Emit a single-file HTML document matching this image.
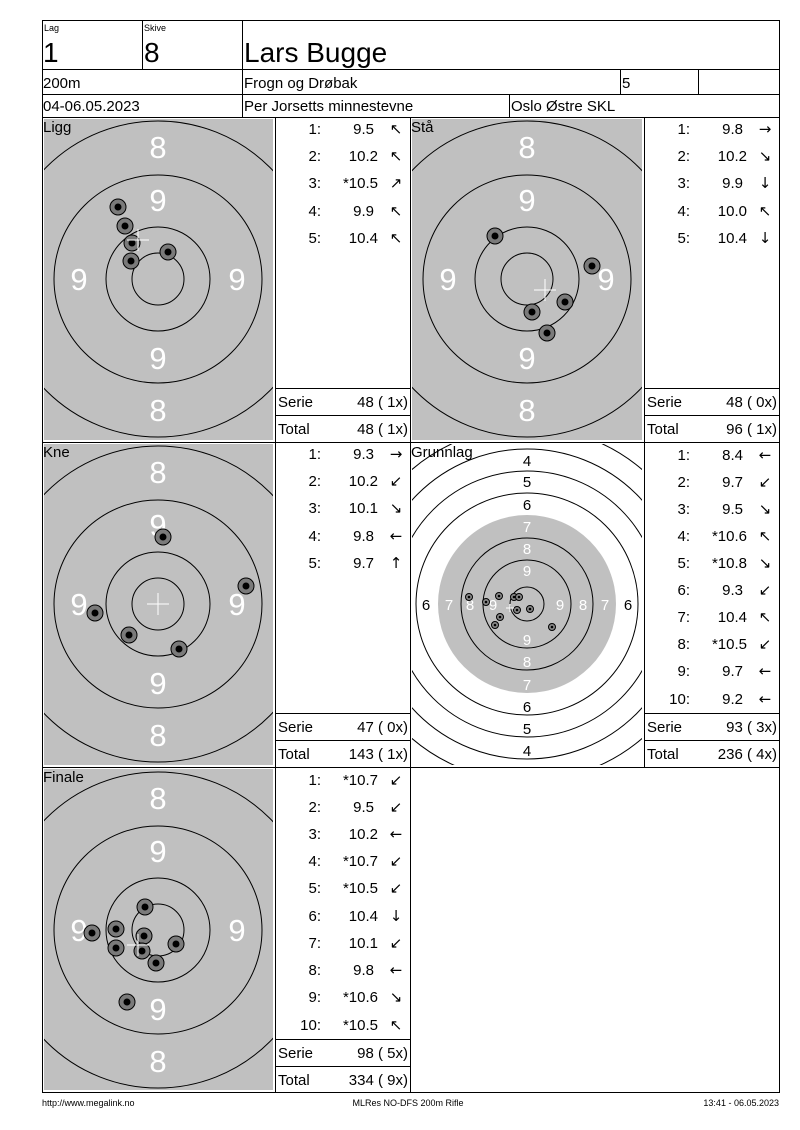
<!DOCTYPE html>
<html><head><meta charset="utf-8"><style>
html,body{margin:0;padding:0;background:#fff;}
svg{display:block;font-family:"Liberation Sans","DejaVu Sans",sans-serif;}
.w{fill:#fff;font-size:31px;text-anchor:middle;}
.l{font-size:15px;fill:#000;}
.r{font-size:15px;fill:#000;text-anchor:end;}
.a{font-size:15px;fill:#000;font-family:"DejaVu Sans",sans-serif;text-anchor:middle;}
.g{fill:#000;font-size:15px;text-anchor:middle;}
.gw{fill:#fff;font-size:15px;text-anchor:middle;}
</style></head><body>
<svg width="800" height="1130" viewBox="0 0 800 1130" xmlns="http://www.w3.org/2000/svg">
<defs>
<clipPath id="c1"><rect x="44" y="119" width="229" height="321"/></clipPath>
<clipPath id="c2"><rect x="412" y="119" width="230" height="321"/></clipPath>
<clipPath id="c3"><rect x="44" y="444" width="229" height="321"/></clipPath>
<clipPath id="c4"><rect x="412" y="444" width="230" height="321"/></clipPath>
<clipPath id="c5"><rect x="44" y="769" width="229" height="321"/></clipPath>
<g id="shot"><circle r="8" fill="#7a7a7a" stroke="#000" stroke-width="1"/><circle r="3.5" fill="#000"/></g>
<g id="ss"><circle r="3.5" fill="#888" stroke="#000" stroke-width="1"/><circle r="1.3" fill="#000"/></g>
</defs>

<!-- Ligg -->
<rect x="44" y="119" width="229" height="321" fill="#c0c0c0"/>
<g clip-path="url(#c1)" fill="none" stroke="#000" stroke-width="1">
<circle cx="158" cy="279" r="26"/><circle cx="158" cy="279" r="52"/><circle cx="158" cy="279" r="104"/><circle cx="158" cy="279" r="158"/>
</g>
<text class="w" x="158" y="158">8</text><text class="w" x="158" y="211">9</text><text class="w" x="79" y="290">9</text><text class="w" x="237" y="290">9</text><text class="w" x="158" y="369">9</text><text class="w" x="158" y="421">8</text>
<use href="#shot" x="118" y="207"/><use href="#shot" x="125" y="226"/><use href="#shot" x="132" y="243"/><use href="#shot" x="131" y="261"/><use href="#shot" x="168" y="252"/>
<path d="M127 240h22M138 229v22" stroke="#fff" stroke-width="1"/>
<text class="l" x="43" y="132">Ligg</text>

<!-- Stå -->
<rect x="412" y="119" width="230" height="321" fill="#c0c0c0"/>
<g clip-path="url(#c2)" fill="none" stroke="#000" stroke-width="1">
<circle cx="527" cy="279" r="26"/><circle cx="527" cy="279" r="52"/><circle cx="527" cy="279" r="104"/><circle cx="527" cy="279" r="158"/>
</g>
<text class="w" x="527" y="158">8</text><text class="w" x="527" y="211">9</text><text class="w" x="448" y="290">9</text><text class="w" x="606" y="290">9</text><text class="w" x="527" y="369">9</text><text class="w" x="527" y="421">8</text>
<use href="#shot" x="495" y="236"/><use href="#shot" x="592" y="266"/><use href="#shot" x="565" y="302"/><use href="#shot" x="532" y="312"/><use href="#shot" x="547" y="333"/>
<path d="M534 290h22M545 279v22" stroke="#fff" stroke-width="1"/>
<text class="l" x="411" y="132">Stå</text>

<!-- Kne -->
<rect x="44" y="444" width="229" height="321" fill="#c0c0c0"/>
<g clip-path="url(#c3)" fill="none" stroke="#000" stroke-width="1">
<circle cx="158" cy="604" r="26"/><circle cx="158" cy="604" r="52"/><circle cx="158" cy="604" r="104"/><circle cx="158" cy="604" r="158"/>
</g>
<text class="w" x="158" y="483">8</text><text class="w" x="158" y="536">9</text><text class="w" x="79" y="615">9</text><text class="w" x="237" y="615">9</text><text class="w" x="158" y="694">9</text><text class="w" x="158" y="746">8</text>
<use href="#shot" x="163" y="537"/><use href="#shot" x="246" y="586"/><use href="#shot" x="95" y="613"/><use href="#shot" x="129" y="635"/><use href="#shot" x="179" y="649"/>
<path d="M147 604h22M158 593v22" stroke="#fff" stroke-width="1"/>
<text class="l" x="43" y="457">Kne</text>

<!-- Grunnlag -->
<g clip-path="url(#c4)">
<circle cx="527" cy="604" r="89" fill="#c0c0c0"/>
<g fill="none" stroke="#000" stroke-width="1">
<circle cx="527" cy="604" r="17"/><circle cx="527" cy="604" r="44"/><circle cx="527" cy="604" r="66"/>
<circle cx="527" cy="604" r="111"/><circle cx="527" cy="604" r="133"/><circle cx="527" cy="604" r="155"/><circle cx="527" cy="604" r="177"/>
</g>
</g>
<text class="g" x="527" y="466">4</text><text class="g" x="527" y="487">5</text><text class="g" x="527" y="510">6</text>
<text class="gw" x="527" y="532">7</text><text class="gw" x="527" y="554">8</text><text class="gw" x="527" y="576">9</text>
<text class="gw" x="527" y="645">9</text><text class="gw" x="527" y="667">8</text><text class="gw" x="527" y="690">7</text>
<text class="g" x="527" y="712">6</text><text class="g" x="527" y="734">5</text><text class="g" x="527" y="756">4</text>
<text class="g" x="426" y="610">6</text><text class="gw" x="449" y="610">7</text><text class="gw" x="470" y="610">8</text><text class="gw" x="493" y="610">9</text>
<text class="gw" x="560" y="610">9</text><text class="gw" x="583" y="610">8</text><text class="gw" x="605" y="610">7</text><text class="g" x="628" y="610">6</text>
<use href="#ss" x="469" y="597"/><use href="#ss" x="486" y="602"/><use href="#ss" x="499" y="596"/><use href="#ss" x="514" y="597"/><use href="#ss" x="519" y="597"/>
<use href="#ss" x="500" y="617"/><use href="#ss" x="495" y="625"/><use href="#ss" x="517" y="610"/><use href="#ss" x="530" y="609"/><use href="#ss" x="552" y="627"/>
<path d="M506 608h8M510 604v8" stroke="#fff" stroke-width="1"/>
<text class="l" x="411" y="457">Grunnlag</text>

<!-- Finale -->
<rect x="44" y="769" width="229" height="321" fill="#c0c0c0"/>
<g clip-path="url(#c5)" fill="none" stroke="#000" stroke-width="1">
<circle cx="158" cy="930" r="26"/><circle cx="158" cy="930" r="52"/><circle cx="158" cy="930" r="104"/><circle cx="158" cy="930" r="158"/>
</g>
<text class="w" x="158" y="809">8</text><text class="w" x="158" y="862">9</text><text class="w" x="79" y="941">9</text><text class="w" x="237" y="941">9</text><text class="w" x="158" y="1020">9</text><text class="w" x="158" y="1072">8</text>
<use href="#shot" x="145" y="907"/><use href="#shot" x="92" y="933"/><use href="#shot" x="116" y="929"/><use href="#shot" x="116" y="948"/><use href="#shot" x="144" y="936"/><use href="#shot" x="176" y="944"/><use href="#shot" x="142" y="951"/><use href="#shot" x="156" y="963"/><use href="#shot" x="127" y="1002"/>
<path d="M127 945h22M138 934v22" stroke="#fff" stroke-width="1"/>
<text class="l" x="43" y="782">Finale</text>

<!-- grid lines -->
<g stroke="#000" stroke-width="1" fill="none">
<rect x="42.5" y="20.5" width="737" height="1072"/>
<line x1="42" y1="69.5" x2="780" y2="69.5"/>
<line x1="42" y1="94.5" x2="780" y2="94.5"/>
<line x1="42" y1="117.5" x2="780" y2="117.5"/>
<line x1="142.5" y1="20" x2="142.5" y2="69"/>
<line x1="242.5" y1="20" x2="242.5" y2="117"/>
<line x1="620.5" y1="69" x2="620.5" y2="94"/>
<line x1="698.5" y1="69" x2="698.5" y2="94"/>
<line x1="509.5" y1="94" x2="509.5" y2="117"/>
<line x1="42" y1="442.5" x2="780" y2="442.5"/>
<line x1="42" y1="767.5" x2="780" y2="767.5"/>
<line x1="275.5" y1="117" x2="275.5" y2="1092"/>
<line x1="410.5" y1="117" x2="410.5" y2="1092"/>
<line x1="644.5" y1="117" x2="644.5" y2="767"/>
<line x1="275" y1="388.5" x2="410" y2="388.5"/><line x1="275" y1="415.5" x2="410" y2="415.5"/>
<line x1="644" y1="388.5" x2="780" y2="388.5"/><line x1="644" y1="415.5" x2="780" y2="415.5"/>
<line x1="275" y1="713.5" x2="410" y2="713.5"/><line x1="275" y1="740.5" x2="410" y2="740.5"/>
<line x1="644" y1="713.5" x2="780" y2="713.5"/><line x1="644" y1="740.5" x2="780" y2="740.5"/>
<line x1="275" y1="1039.5" x2="410" y2="1039.5"/><line x1="275" y1="1066.5" x2="410" y2="1066.5"/>
</g>

<!-- header -->
<text x="44" y="31" font-size="9">Lag</text>
<text x="144" y="31" font-size="9">Skive</text>
<text x="43" y="62" font-size="28">1</text>
<text x="144" y="62" font-size="28">8</text>
<text x="244" y="62" font-size="28">Lars Bugge</text>
<text x="43" y="88" font-size="15">200m</text>
<text x="244" y="88" font-size="15">Frogn og Drøbak</text>
<text x="622" y="88" font-size="15">5</text>
<text x="43" y="111" font-size="15">04-06.05.2023</text>
<text x="244" y="111" font-size="15">Per Jorsetts minnestevne</text>
<text x="511" y="111" font-size="15">Oslo Østre SKL</text>

<!-- Ligg list -->
<g>
<text class="r" x="321" y="134">1:</text><text class="r" x="374" y="134">9.5</text><text class="a" x="396" y="134">↖</text>
<text class="r" x="321" y="161">2:</text><text class="r" x="378" y="161">10.2</text><text class="a" x="396" y="161">↖</text>
<text class="r" x="321" y="188">3:</text><text class="r" x="378" y="188">*10.5</text><text class="a" x="396" y="188">↗</text>
<text class="r" x="321" y="216">4:</text><text class="r" x="374" y="216">9.9</text><text class="a" x="396" y="216">↖</text>
<text class="r" x="321" y="243">5:</text><text class="r" x="378" y="243">10.4</text><text class="a" x="396" y="243">↖</text>
<text class="l" x="278" y="407">Serie</text><text class="r" x="408" y="407">48 ( 1x)</text>
<text class="l" x="278" y="434">Total</text><text class="r" x="408" y="434">48 ( 1x)</text>
</g>
<!-- Stå list -->
<g>
<text class="r" x="690" y="134">1:</text><text class="r" x="743" y="134">9.8</text><text class="a" x="765" y="134">→</text>
<text class="r" x="690" y="161">2:</text><text class="r" x="747" y="161">10.2</text><text class="a" x="765" y="161">↘</text>
<text class="r" x="690" y="188">3:</text><text class="r" x="743" y="188">9.9</text><text class="a" x="765" y="188">↓</text>
<text class="r" x="690" y="216">4:</text><text class="r" x="747" y="216">10.0</text><text class="a" x="765" y="216">↖</text>
<text class="r" x="690" y="243">5:</text><text class="r" x="747" y="243">10.4</text><text class="a" x="765" y="243">↓</text>
<text class="l" x="647" y="407">Serie</text><text class="r" x="777" y="407">48 ( 0x)</text>
<text class="l" x="647" y="434">Total</text><text class="r" x="777" y="434">96 ( 1x)</text>
</g>
<!-- Kne list -->
<g>
<text class="r" x="321" y="459">1:</text><text class="r" x="374" y="459">9.3</text><text class="a" x="396" y="459">→</text>
<text class="r" x="321" y="486">2:</text><text class="r" x="378" y="486">10.2</text><text class="a" x="396" y="486">↙</text>
<text class="r" x="321" y="513">3:</text><text class="r" x="378" y="513">10.1</text><text class="a" x="396" y="513">↘</text>
<text class="r" x="321" y="541">4:</text><text class="r" x="374" y="541">9.8</text><text class="a" x="396" y="541">←</text>
<text class="r" x="321" y="568">5:</text><text class="r" x="374" y="568">9.7</text><text class="a" x="396" y="568">↑</text>
<text class="l" x="278" y="732">Serie</text><text class="r" x="408" y="732">47 ( 0x)</text>
<text class="l" x="278" y="759">Total</text><text class="r" x="408" y="759">143 ( 1x)</text>
</g>
<!-- Grunnlag list -->
<g>
<text class="r" x="690" y="460">1:</text><text class="r" x="743" y="460">8.4</text><text class="a" x="765" y="460">←</text>
<text class="r" x="690" y="487">2:</text><text class="r" x="743" y="487">9.7</text><text class="a" x="765" y="487">↙</text>
<text class="r" x="690" y="514">3:</text><text class="r" x="743" y="514">9.5</text><text class="a" x="765" y="514">↘</text>
<text class="r" x="690" y="541">4:</text><text class="r" x="747" y="541">*10.6</text><text class="a" x="765" y="541">↖</text>
<text class="r" x="690" y="568">5:</text><text class="r" x="747" y="568">*10.8</text><text class="a" x="765" y="568">↘</text>
<text class="r" x="690" y="595">6:</text><text class="r" x="743" y="595">9.3</text><text class="a" x="765" y="595">↙</text>
<text class="r" x="690" y="622">7:</text><text class="r" x="747" y="622">10.4</text><text class="a" x="765" y="622">↖</text>
<text class="r" x="690" y="649">8:</text><text class="r" x="747" y="649">*10.5</text><text class="a" x="765" y="649">↙</text>
<text class="r" x="690" y="676">9:</text><text class="r" x="743" y="676">9.7</text><text class="a" x="765" y="676">←</text>
<text class="r" x="690" y="704">10:</text><text class="r" x="743" y="704">9.2</text><text class="a" x="765" y="704">←</text>
<text class="l" x="647" y="732">Serie</text><text class="r" x="777" y="732">93 ( 3x)</text>
<text class="l" x="647" y="759">Total</text><text class="r" x="777" y="759">236 ( 4x)</text>
</g>
<!-- Finale list -->
<g>
<text class="r" x="321" y="785">1:</text><text class="r" x="378" y="785">*10.7</text><text class="a" x="396" y="785">↙</text>
<text class="r" x="321" y="812">2:</text><text class="r" x="374" y="812">9.5</text><text class="a" x="396" y="812">↙</text>
<text class="r" x="321" y="839">3:</text><text class="r" x="378" y="839">10.2</text><text class="a" x="396" y="839">←</text>
<text class="r" x="321" y="866">4:</text><text class="r" x="378" y="866">*10.7</text><text class="a" x="396" y="866">↙</text>
<text class="r" x="321" y="893">5:</text><text class="r" x="378" y="893">*10.5</text><text class="a" x="396" y="893">↙</text>
<text class="r" x="321" y="921">6:</text><text class="r" x="378" y="921">10.4</text><text class="a" x="396" y="921">↓</text>
<text class="r" x="321" y="948">7:</text><text class="r" x="378" y="948">10.1</text><text class="a" x="396" y="948">↙</text>
<text class="r" x="321" y="975">8:</text><text class="r" x="374" y="975">9.8</text><text class="a" x="396" y="975">←</text>
<text class="r" x="321" y="1002">9:</text><text class="r" x="378" y="1002">*10.6</text><text class="a" x="396" y="1002">↘</text>
<text class="r" x="321" y="1030">10:</text><text class="r" x="378" y="1030">*10.5</text><text class="a" x="396" y="1030">↖</text>
<text class="l" x="278" y="1058">Serie</text><text class="r" x="408" y="1058">98 ( 5x)</text>
<text class="l" x="278" y="1085">Total</text><text class="r" x="408" y="1085">334 ( 9x)</text>
</g>

<!-- footer -->
<text x="42" y="1106" font-size="9">http://www.megalink.no</text>
<text x="408" y="1106" font-size="9" text-anchor="middle">MLRes NO-DFS 200m Rifle</text>
<text x="779" y="1106" font-size="9" text-anchor="end">13:41 - 06.05.2023</text>
</svg>
</body></html>
